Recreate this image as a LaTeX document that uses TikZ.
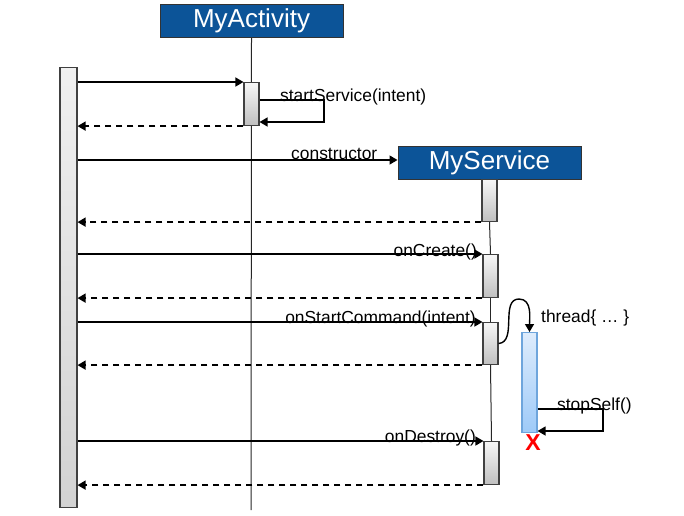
\documentclass[tikz,border=0pt]{standalone}
\usepackage{fontspec}
\setmainfont{Liberation Sans}
\usetikzlibrary{arrows.meta}
\usetikzlibrary{positioning}
\usepackage{xcolor}
\definecolor{hdblue}{RGB}{12,84,152}
\definecolor{thrtop}{RGB}{222,236,252}
\definecolor{thrbot}{RGB}{158,202,248}
\definecolor{thredge}{RGB}{110,165,220}

\tikzset{
  headbox/.style={draw=black!80, line width=1pt, fill=hdblue, text=white, minimum width=183pt,
    minimum height=33pt, inner sep=0pt, font=\fontsize{26}{28}\selectfont},
  actbar/.style={draw=black!75, line width=1.1pt, top color=gray!6, bottom color=gray!50,
    minimum width=15pt, inner sep=0pt, anchor=north},
  mainbar/.style={actbar, top color=gray!12, bottom color=gray!35, minimum width=17pt},
  thrbar/.style={actbar, draw=thredge, top color=thrtop, bottom color=thrbot},
  life/.style={line width=1pt, black!85},
  msg/.style={line width=1.4pt, -{Triangle[length=8pt,width=9pt]}},
  ret/.style={msg, dash pattern=on 6pt off 5pt},
  lbl/.style={inner sep=0pt, font=\fontsize{17.4}{19}\selectfont},
}

\begin{document}
\begin{tikzpicture}[x=1pt,y=-1pt]
\useasboundingbox (0,0) rectangle (684,515);

\node[headbox] (act) at (251.5,21) {MyActivity};
\node[headbox] (svc) at (489.5,162.5) {MyService};
\coordinate (actend) at (251,510);

\draw[life] (act.south) -- (actend);
\node[mainbar, minimum height=440pt] (main) at (68.5,67) {};
\node[actbar, minimum height=43pt] (a1) at (251.5,82) {};
\node[actbar, minimum height=42pt] (s1) at (489.5,179) {};
\node[actbar, minimum height=43pt] (c1) at (490.5,254) {};
\node[actbar, minimum height=42pt] (s3) at (490.5,322) {};
\node[actbar, minimum height=43pt] (d1) at (491.5,441) {};
\node[thrbar, minimum height=100pt] (thr) at (529.5,332) {};
\draw[life] (s1.south) -- (c1.north);
\draw[life] (c1.south) -- (s3.north);
\draw[life] (s3.south) -- (d1.north);

% startService
\draw[msg] (main.east |- a1.north west) -- (a1.north west);
\draw[msg] (a1.east |- 0,100) -- (324,100) |- (a1.east |- 0,122);
\node[lbl, anchor=base west] (lss) at (280,101) {startService(intent)};
\draw[ret] (a1.south west) -- (main.east |- a1.south west);

% constructor
\draw[msg] (main.east |- 0,160) -- (svc.west |- 0,160);
\node[lbl, anchor=base west] (lctor) at (291,159) {constructor};
\draw[ret] (s1.south west) -- (main.east |- s1.south west);

% onCreate
\draw[msg] (main.east |- c1.north west) -- (c1.north west);
\node[lbl, anchor=base east] (lcr) at (477,256) {onCreate()};
\draw[ret] (c1.south west) -- (main.east |- c1.south west);

% onStartCommand
\draw[msg] (main.east |- s3.north west) -- (s3.north west);
\node[lbl, anchor=base east] (lsc) at (476,323) {onStartCommand(intent)};
\draw[ret] (s3.south west) -- (main.east |- s3.south west);
\draw[msg] (s3.east) to[out=5,in=180] (519,299) to[out=0,in=90] (thr.north);
\node[lbl, anchor=base west] (lthr) at (541,322) {thread\{ … \}};

% stopSelf
\draw[msg] (thr.east |- 0,409) -- (603,409) |- (thr.east |- 0,431);
\node[lbl, anchor=base west] (lstop) at (557,410) {stopSelf()};
\node[text=red, font=\fontsize{23}{24}\selectfont\bfseries, inner sep=0pt] (kill) at (533,443) {X};

% onDestroy
\draw[msg] (main.east |- d1.north west) -- (d1.north west);
\node[lbl, anchor=base east] (ldes) at (476,442) {onDestroy()};
\draw[ret] (d1.south west) -- (main.east |- d1.south west);
\end{tikzpicture}
\end{document}
